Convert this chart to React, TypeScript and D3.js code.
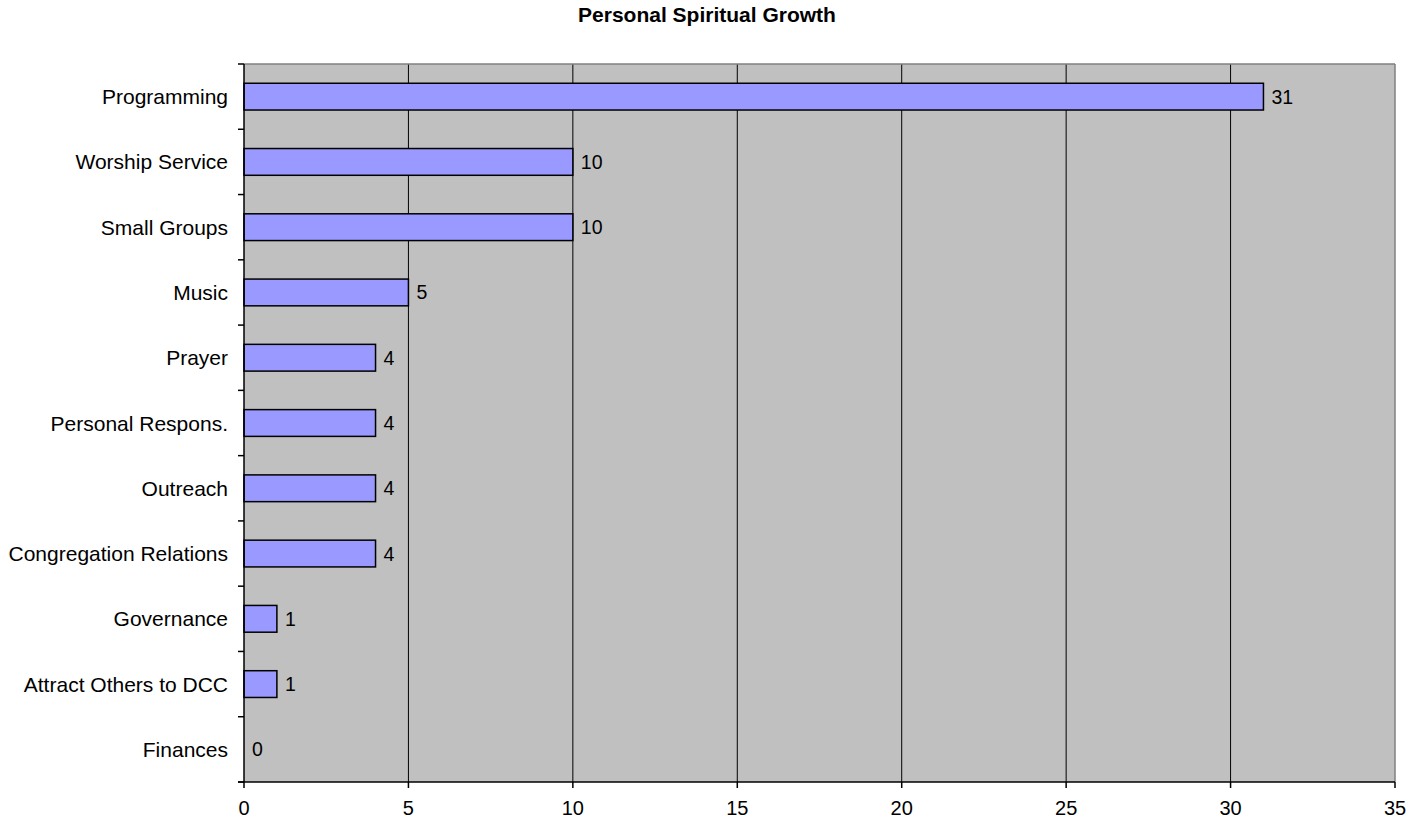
import * as d3 from "d3";

const categories = [
  "Programming",
  "Worship Service",
  "Small Groups",
  "Music",
  "Prayer",
  "Personal Respons.",
  "Outreach",
  "Congregation Relations",
  "Governance",
  "Attract Others to DCC",
  "Finances",
];
const counts = [31, 10, 10, 5, 4, 4, 4, 4, 1, 1, 0];
const xTicks = [0, 5, 10, 15, 20, 25, 30, 35];

const W = 1407;
const H = 818;
const margin = { top: 64, left: 244, right: 12, bottom: 36 };
const FONT = "'Liberation Sans', Arial, sans-serif";

export default function App() {
  const x = d3
    .scaleLinear()
    .domain([0, 35])
    .range([margin.left, W - margin.right]);
  const y = d3
    .scaleBand<string>()
    .domain(categories)
    .range([margin.top, H - margin.bottom]);
  const step = y.step();
  const barH = step * 0.41;
  const bottom = H - margin.bottom;
  const right = W - margin.right;

  // band boundaries for the y tick marks
  const boundaries = d3.range(categories.length + 1).map((i) => margin.top + i * step);

  return (
    <svg
      width={W}
      height={H}
      style={{ position: "absolute", left: 0, top: 0, background: "#fff" }}
      fontFamily={FONT}
    >
      <text x={707} y={22} textAnchor="middle" fontWeight="bold" fontSize={21}>
        Personal Spiritual Growth
      </text>

      {/* plot area */}
      <rect x={margin.left} y={margin.top} width={right - margin.left} height={bottom - margin.top} fill="#c0c0c0" />
      {xTicks.slice(1, -1).map((t) => (
        <line key={"g" + t} x1={x(t)} x2={x(t)} y1={margin.top} y2={bottom} stroke="#000" strokeWidth={1} />
      ))}
      <line x1={margin.left} x2={right} y1={margin.top} y2={margin.top} stroke="#808080" strokeWidth={1.5} />
      <line x1={right} x2={right} y1={margin.top} y2={bottom} stroke="#808080" strokeWidth={1.5} />

      {/* bars */}
      {categories.map((c, i) => {
        const cy = (y(c) as number) + step / 2;
        return (
          <g key={c}>
            {counts[i] > 0 && (
              <rect
                x={x(0)}
                y={cy - barH / 2}
                width={x(counts[i]) - x(0)}
                height={barH}
                fill="#9999ff"
                stroke="#000"
                strokeWidth={1.5}
              />
            )}
            <text x={x(counts[i]) + 8} y={cy} dominantBaseline="central" fontSize={19.5}>
              {counts[i]}
            </text>
            <text x={228} y={cy} dominantBaseline="central" textAnchor="end" fontSize={21}>
              {c}
            </text>
          </g>
        );
      })}

      {/* axes */}
      <line x1={margin.left} x2={margin.left} y1={margin.top} y2={bottom} stroke="#000" strokeWidth={1.5} />
      <line x1={margin.left - 6} x2={right} y1={bottom} y2={bottom} stroke="#000" strokeWidth={1.5} />
      {boundaries.map((b, i) => (
        <line key={"yt" + i} x1={margin.left - 6} x2={margin.left} y1={b} y2={b} stroke="#000" strokeWidth={1.5} />
      ))}
      {xTicks.map((t) => (
        <g key={"xt" + t}>
          <line x1={x(t)} x2={x(t)} y1={bottom} y2={bottom + 6} stroke="#000" strokeWidth={1.5} />
          <text x={x(t)} y={815} textAnchor="middle" fontSize={20}>
            {t}
          </text>
        </g>
      ))}
    </svg>
  );
}
